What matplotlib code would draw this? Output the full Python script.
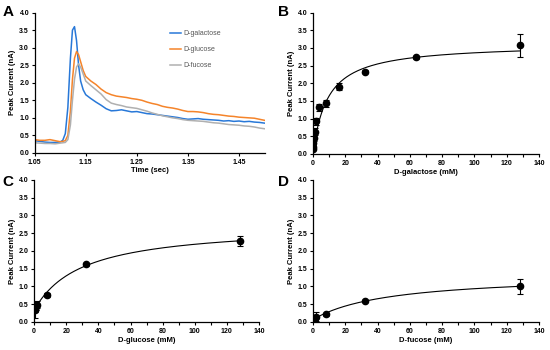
import numpy as np
import matplotlib
matplotlib.use("Agg")
import matplotlib.pyplot as plt
from matplotlib.ticker import MultipleLocator

plt.rcParams['font.family'] = ['Liberation Sans', 'DejaVu Sans']

# panel A: amperometric traces
time_s = [1.05, 1.06, 1.07, 1.08, 1.09, 1.10, 1.105, 1.11, 1.115, 1.12, 1.124, 1.128, 1.132,
          1.136, 1.14, 1.145, 1.15, 1.16, 1.17, 1.18, 1.19, 1.20, 1.21, 1.22, 1.23, 1.24,
          1.25, 1.26, 1.27, 1.28, 1.29, 1.30, 1.31, 1.32, 1.33, 1.34, 1.35, 1.36, 1.37,
          1.38, 1.39, 1.40, 1.41, 1.42, 1.43, 1.44, 1.45, 1.46, 1.47, 1.48, 1.49, 1.50]
galactose_trace = [0.35, 0.33, 0.31, 0.30, 0.30, 0.31, 0.36, 0.55, 1.30, 2.70, 3.50, 3.60, 3.20,
                   2.50, 2.05, 1.80, 1.66, 1.55, 1.45, 1.36, 1.26, 1.20, 1.21, 1.23, 1.20, 1.17,
                   1.18, 1.15, 1.12, 1.11, 1.09, 1.07, 1.05, 1.03, 1.01, 0.98, 0.96, 0.97, 0.98,
                   0.96, 0.95, 0.94, 0.93, 0.91, 0.92, 0.90, 0.91, 0.89, 0.90, 0.88, 0.87, 0.85]
glucose_trace = [0.38, 0.36, 0.36, 0.38, 0.35, 0.32, 0.33, 0.35, 0.50, 1.20, 2.10, 2.70, 2.89,
                 2.80, 2.60, 2.35, 2.18, 2.05, 1.95, 1.82, 1.72, 1.66, 1.62, 1.60, 1.58, 1.55,
                 1.53, 1.50, 1.45, 1.41, 1.38, 1.33, 1.30, 1.28, 1.25, 1.21, 1.18, 1.18, 1.17,
                 1.15, 1.12, 1.10, 1.09, 1.07, 1.05, 1.04, 1.02, 1.01, 1.00, 0.99, 0.96, 0.93]
fucose_trace = [0.29, 0.28, 0.27, 0.27, 0.26, 0.28, 0.29, 0.30, 0.38, 0.80, 1.50, 2.10, 2.45,
                2.54, 2.45, 2.25, 2.05, 1.92, 1.80, 1.68, 1.52, 1.42, 1.38, 1.35, 1.31, 1.29,
                1.27, 1.23, 1.19, 1.14, 1.10, 1.06, 1.03, 1.00, 0.98, 0.95, 0.93, 0.92, 0.91,
                0.90, 0.88, 0.86, 0.85, 0.83, 0.81, 0.80, 0.79, 0.77, 0.76, 0.74, 0.71, 0.69]

# panels B-D: calibration points
gal_conc = [0.0625, 0.125, 0.25, 0.5, 1, 2, 4, 8, 16, 32, 64, 128]
gal_current = [0.15, 0.21, 0.30, 0.44, 0.63, 0.92, 1.32, 1.43, 1.90, 2.33, 2.73, 3.07]
gal_err = [0.05, 0.05, 0.06, 0.08, 0.10, 0.10, 0.10, 0.10, 0.10, 0.05, 0.04, 0.33]
gal_fit = (0.0, 3.12, 9.0)   # offset, Imax, Km

glc_conc = [0.25, 0.5, 1, 2, 8, 32, 128]
glc_current = [0.33, 0.38, 0.45, 0.49, 0.77, 1.63, 2.27]
glc_err = [0.22, 0.10, 0.10, 0.10, 0.06, 0.04, 0.14]

fuc_conc = [0.25, 0.5, 1, 2, 8, 32, 128]
fuc_current = [0.08, 0.06, 0.10, 0.15, 0.22, 0.60, 1.00]
fuc_err = [0.04, 0.04, 0.05, 0.12, 0.04, 0.03, 0.22]


def mm_fit(x, y):
    # least-squares Michaelis-Menten fit with offset (grid over Km)
    x = np.asarray(x, float)
    y = np.asarray(y, float)
    best = None
    for km in np.linspace(0.5, 80, 800):
        f = x / (km + x)
        A = np.column_stack([f, np.ones_like(f)])
        coef, *_ = np.linalg.lstsq(A, y, rcond=None)
        r = np.sum((A @ coef - y) ** 2)
        if best is None or r < best[0]:
            best = (r, km, coef)
    _, km, coef = best
    return coef[1], coef[0], km


def mm_curve(params, xmax):
    y0, imax, km = params
    xs = np.linspace(0, xmax, 300)
    return xs, y0 + imax * xs / (km + xs)


fig = plt.figure(figsize=(5.5, 3.5), dpi=100)
axA = fig.add_axes([0.063, 0.563, 0.418, 0.401])
axB = fig.add_axes([0.569, 0.560, 0.411, 0.404])
axC = fig.add_axes([0.062, 0.080, 0.409, 0.406])
axD = fig.add_axes([0.569, 0.080, 0.411, 0.406])

tick_kw = dict(labelsize=5, width=0.8, length=2.5, pad=1.5, color='black')


def style(ax):
    for s in ['top', 'right']:
        ax.spines[s].set_visible(False)
    for s in ['left', 'bottom']:
        ax.spines[s].set_linewidth(0.9)
    ax.tick_params(which='major', **tick_kw)
    ax.tick_params(which='minor', length=1.8, width=0.8)
    for lab in ax.get_xticklabels() + ax.get_yticklabels():
        lab.set_fontweight('bold')
    ax.set_ylim(0, 4.0)
    ax.yaxis.set_major_locator(MultipleLocator(0.5))
    ax.yaxis.set_major_formatter(plt.FormatStrFormatter('%.1f'))
    ax.set_ylabel('Peak Current (nA)', fontsize=5.5, fontweight='bold', labelpad=2)


# A
axA.plot(time_s, galactose_trace, color='#2878d8', lw=1.1, label='D-galactose')
axA.plot(time_s, glucose_trace, color='#f5842a', lw=1.1, label='D-glucose')
axA.plot(time_s, fucose_trace, color='#b0b0b0', lw=1.1, label='D-fucose')
axA.set_xlim(1.05, 1.50)
axA.set_xticks([1.05, 1.15, 1.25, 1.35, 1.45])
axA.xaxis.set_major_formatter(plt.FormatStrFormatter('%.2f'))
style(axA)
axA.set_xlabel('Time (sec)', fontsize=5.5, fontweight='bold', labelpad=1)
leg = axA.legend(loc='upper left', bbox_to_anchor=(0.56, 0.92), frameon=False, fontsize=5,
                 handlelength=1.7, handletextpad=0.3, labelspacing=1.3)
for t in leg.get_texts():
    t.set_color('#555555')

# B-D
for ax, conc, cur, err, label, params in [
        (axB, gal_conc, gal_current, gal_err, 'D-galactose (mM)', gal_fit),
        (axC, glc_conc, glc_current, glc_err, 'D-glucose (mM)', None),
        (axD, fuc_conc, fuc_current, fuc_err, 'D-fucose (mM)', None)]:
    if params is None:
        params = mm_fit(conc, cur)
    xs, ys = mm_curve(params, max(conc))
    ax.plot(xs, ys, color='black', lw=0.8)
    ax.errorbar(conc, cur, yerr=err, fmt='o', color='black', ms=4.5, elinewidth=0.8,
                capsize=2.2, capthick=0.8)
    ax.set_xlim(0, 140)
    ax.xaxis.set_major_locator(MultipleLocator(20))
    ax.xaxis.set_minor_locator(MultipleLocator(10))
    style(ax)
    ax.set_xlabel(label, fontsize=5.5, fontweight='bold', labelpad=2)

for ax, letter, x, y in [(axA, 'A', 0.005, 0.985), (axB, 'B', 0.505, 0.985),
                         (axC, 'C', 0.005, 0.5), (axD, 'D', 0.505, 0.5)]:
    fig.text(x, y, letter, fontsize=11, fontweight='bold', va='top', ha='left')

fig.savefig('out.png', dpi=100)
